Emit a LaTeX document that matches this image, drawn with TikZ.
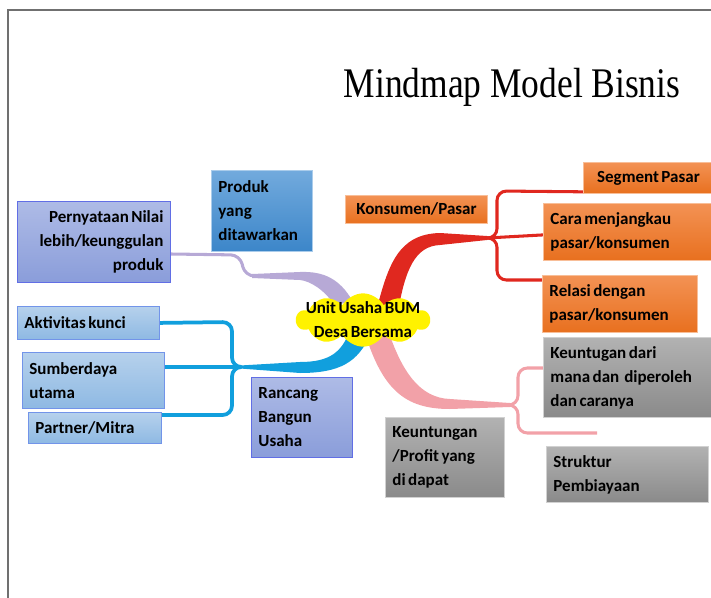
\documentclass[tikz,border=0pt]{standalone}
\usepackage{fontspec}
\setmainfont{Carlito}[WordSpace=0.65]
\newfontfamily\titlefont[FakeStretch=0.84]{Liberation Serif}
\usetikzlibrary{shapes.symbols,calc,backgrounds}

\definecolor{orangetop}{HTML}{F39254}
\definecolor{orangebot}{HTML}{E8701F}
\definecolor{graytop}{HTML}{B2B2B2}
\definecolor{graybot}{HTML}{8A8A8A}
\definecolor{lavtop}{HTML}{AEBBE6}
\definecolor{lavbot}{HTML}{8A9DDA}
\definecolor{skytop}{HTML}{B6D1EC}
\definecolor{skybot}{HTML}{8EB9E3}
\definecolor{prodtop}{HTML}{72AADD}
\definecolor{prodbot}{HTML}{3C86C9}
\definecolor{lavbranch}{HTML}{B7A9D6}
\definecolor{bluebranch}{HTML}{119FDD}
\definecolor{redbranch}{HTML}{E0281F}
\definecolor{pinkbranch}{HTML}{F2A1A8}
\definecolor{framegray}{HTML}{707070}

\tikzset{
  box/.style={rectangle, anchor=north west, inner xsep=6pt, inner ysep=0pt, align=flush left,
    line width=0.7pt, font=\bfseries\fontsize{14.5}{20.5}\selectfont},
  orangebox/.style={box, top color=orangetop, bottom color=orangebot, draw=orangetop!60!white},
  graybox/.style={box, top color=graytop, bottom color=graybot, draw=graytop!60!white},
  lavbox/.style={box, top color=lavtop, bottom color=lavbot, draw=lavbot!70!blue},
  skybox/.style={box, top color=skytop, bottom color=skybot, draw=skybot!80!blue},
  prodbox/.style={box, top color=prodtop, bottom color=prodbot, draw=prodtop!60!white},
  thinbranch/.style={line width=2.6pt, rounded corners=8pt},
}

\begin{document}
\begin{tikzpicture}[x=0.03cm, y=-0.03cm]
    \useasboundingbox (0,0) rectangle (711,597);
    \draw[framegray, line width=1.6pt] (8,600) -- (8,10) -- (715,10);

    \node[font=\titlefont\fontsize{36}{40}\selectfont, anchor=base] (judul) at (512,98) {Mindmap Model Bisnis};

    % kotak-kotak
    \node[prodbox, text width=2.61cm, minimum height=2.43cm] (produk) at (211,170) {Produk\\yang\\ditawarkan};
    \node[lavbox, align=flush right, text width=4.17cm, minimum height=2.43cm] (nilai) at (17,201) {Pernyataan Nilai\\lebih/keunggulan\\produk};
    \node[orangebox, align=flush center, text width=3.84cm, minimum height=0.84cm] (konsumen) at (345,195) {Konsumen/Pasar};
    \node[orangebox, align=flush center, text width=3.48cm, minimum height=0.93cm] (segmen) at (583,162) {Segment Pasar};
    \node[orangebox, text width=4.68cm, minimum height=1.71cm] (cara) at (543,203) {Cara menjangkau\\pasar/konsumen};
    \node[orangebox, text width=4.23cm, minimum height=1.71cm] (relasi) at (542,275) {Relasi dengan\\pasar/konsumen};
    \node[graybox, text width=4.68cm, minimum height=2.4cm] (asal) at (543,337) {Keuntugan dari\\mana dan~ diperoleh\\dan caranya};
    \node[graybox, text width=3.15cm, minimum height=2.4cm] (profit) at (385,417) {Keuntungan\\/Profit yang\\di dapat};
    \node[graybox, text width=4.44cm, minimum height=1.68cm] (struktur) at (546,446) {Struktur\\Pembiayaan};
    \node[skybox, text width=3.84cm, minimum height=0.99cm] (aktivitas) at (17,306) {Aktivitas kunci};
    \node[skybox, text width=3.84cm, minimum height=1.68cm] (sumber) at (22,352) {Sumberdaya\\utama};
    \node[skybox, text width=3.57cm, minimum height=0.93cm] (mitra) at (28,412) {Partner/Mitra};
    \node[lavbox, text width=2.61cm, minimum height=2.4cm] (rancang) at (251,377) {Rancang\\Bangun\\Usaha};

    \node[cloud, cloud puffs=10, cloud puff arc=120, cloud ignores aspect, fill=yellow,
      minimum width=4.0cm, minimum height=1.6cm, inner sep=0pt,
      label={[font=\bfseries\fontsize{14.5}{20.5}\selectfont, align=center]center:Unit Usaha BUM\\Desa Bersama}] (pusat) at (363,320) {};

    \coordinate (jungu) at (252,276);
    \coordinate (jbiru) at (240,367);
    \coordinate (jmerah) at (487,238);
    \coordinate (jpink) at (510,405);
    \coordinate (ujung) at (597,433);

    \begin{scope}[on background layer]
      % ungu
      \fill[lavbranch] ($(jungu)+(0,-2)$) -- (300,272) .. controls (325,271) and (340,280) .. (352,300)
        -- (335,306) .. controls (325,290) and (310,281) .. (300,280) -- ($(jungu)+(0,2)$) -- cycle;
      \draw[lavbranch, thinbranch] ($(nilai.north east)+(0,53)$) -- (240,255) -- (245,276) -- (jungu);
      % biru
      \fill[bluebranch] ($(jbiru)+(0,-1.5)$) -- (300,362) .. controls (330,362) and (342,352) .. (350,330)
        -- (370,335) .. controls (358,362) and (340,373) .. (300,373) -- ($(jbiru)+(0,1.5)$) -- cycle;
      \draw[bluebranch, thinbranch, line width=3.2pt] (jbiru) -| (232,322) -- (aktivitas.east);
      \draw[bluebranch, thinbranch, line width=3.2pt] (jbiru) -- ($(sumber.north east)+(0,15)$);
      \draw[bluebranch, thinbranch, line width=3.2pt] (jbiru) -| (232,415) -- ($(mitra.north east)+(0,3)$);
      % merah
      \fill[redbranch] (376,312) .. controls (388,265) and (398,234) .. (440,233) -- ($(jmerah)+(0,-2)$)
        -- ($(jmerah)+(0,2)$) -- (440,245) .. controls (415,246) and (405,270) .. (398,312) -- cycle;
      \draw[redbranch, thinbranch] (jmerah) -| (497,191) -- ($(segmen.south west)+(0,-2)$);
      \draw[redbranch, thinbranch] (jmerah) -- ($(cara.west)+(0,3)$);
      \draw[redbranch, thinbranch] (jmerah) -| (497,280) -- ($(relasi.north west)+(0,5)$);
      % pink
      \fill[pinkbranch] (364,330) .. controls (382,390) and (405,409) .. (450,409) -- ($(jpink)+(0,2)$)
        -- ($(jpink)+(0,-2)$) -- (450,399) .. controls (420,398) and (402,372) .. (388,330) -- cycle;
      \draw[pinkbranch, thinbranch] (jpink) -| (518,368) -- ($(asal.north west)+(0,31)$);
      \draw[pinkbranch, thinbranch] (jpink) -| (518,433) -- (ujung);
    \end{scope}
\end{tikzpicture}
\end{document}
